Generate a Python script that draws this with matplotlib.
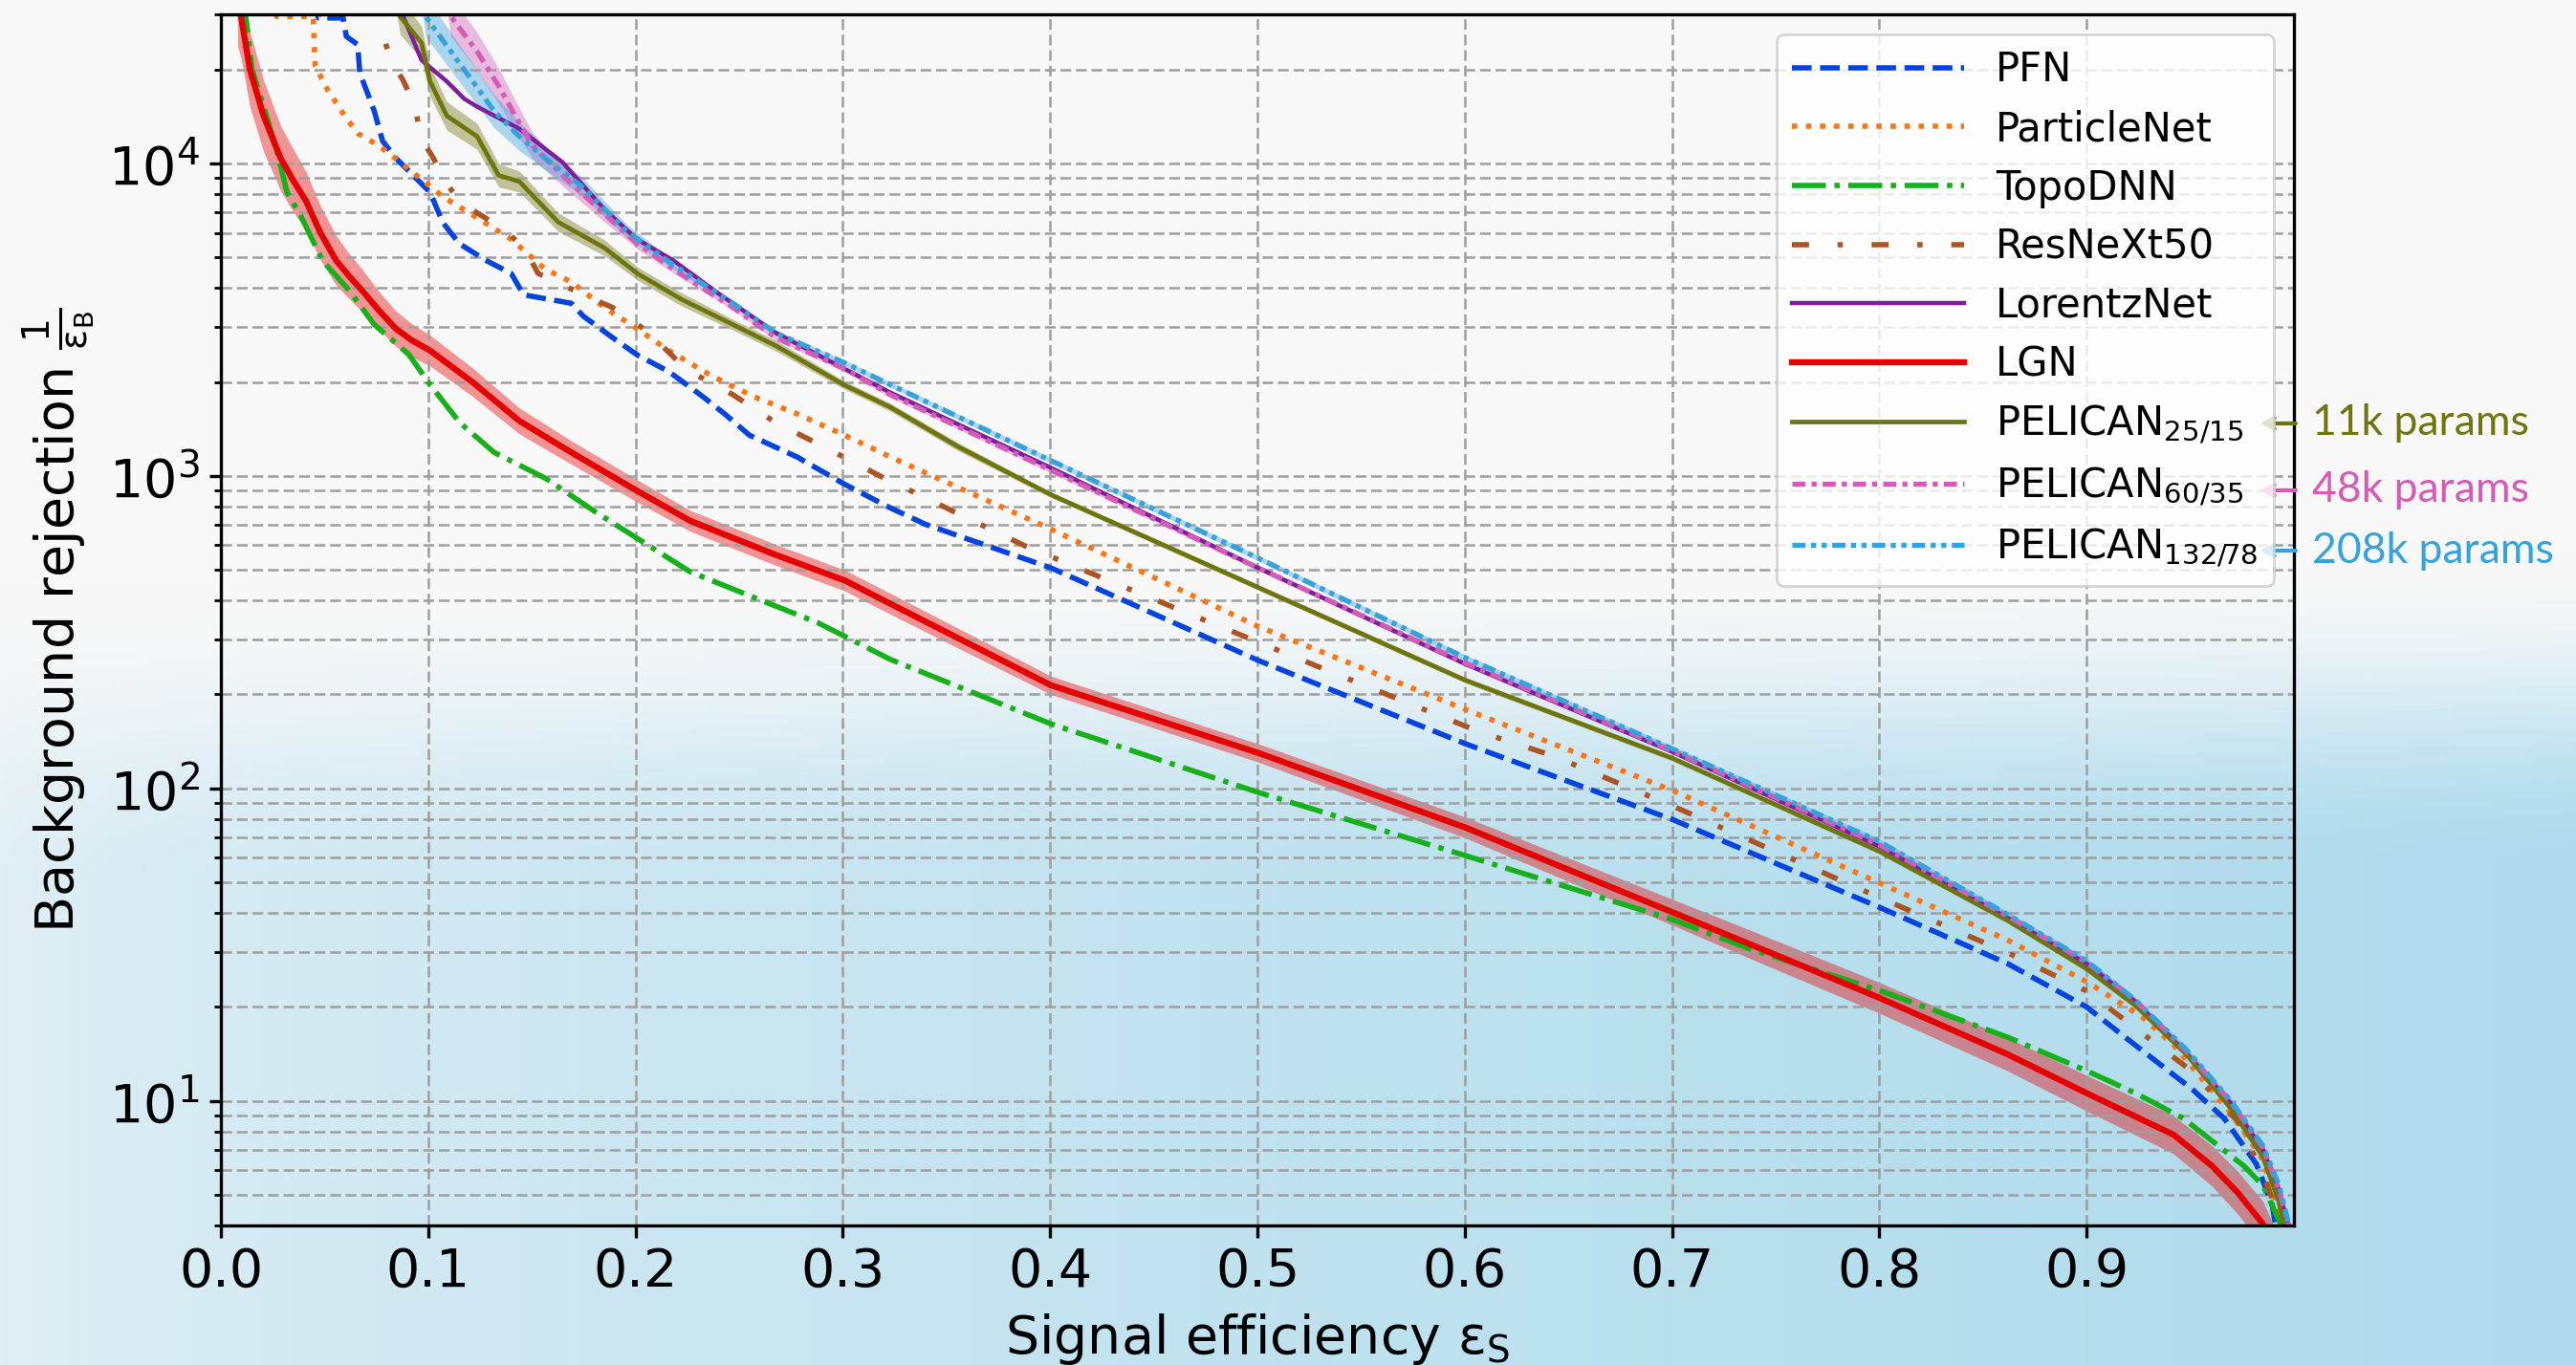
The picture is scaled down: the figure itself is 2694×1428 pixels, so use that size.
import numpy as np
import matplotlib
matplotlib.use("Agg")
import matplotlib.pyplot as plt

# ROC curves: signal efficiency vs background rejection 1/eps_B
pfn_eff = [0.044, 0.047, 0.059, 0.0605, 0.066, 0.067, 0.074, 0.078, 0.0844, 0.0906, 0.1009, 0.107,
           0.115, 0.128, 0.14, 0.146, 0.169, 0.175, 0.189, 0.2008, 0.216, 0.2327, 0.243, 0.255,
           0.278, 0.301, 0.323, 0.34, 0.4004, 0.5004, 0.6004, 0.7002, 0.80, 0.862, 0.90,
           0.9218, 0.951, 0.9664, 0.9818, 0.9895, 0.991, 0.995]
pfn_rej = [40000, 29200, 29200, 25500, 24000, 19500, 14700, 11800, 10400, 9460, 8090, 6480,
           5540, 4890, 4450, 3800, 3570, 3240, 2770, 2440, 2160, 1790, 1580, 1350,
           1150, 940, 790, 700, 508, 257, 139, 79.6, 41.7, 27.5, 20.0,
           15.4, 10.9, 8.8, 6.3, 4.67, 4.05, 3.3]

pnet_eff = [0.022, 0.027, 0.0445, 0.0455, 0.0515, 0.0597, 0.0659, 0.0762, 0.0865, 0.0968, 0.107,
            0.1236, 0.14, 0.1565, 0.169, 0.185, 0.2008, 0.216, 0.2368, 0.2574, 0.278, 0.301,
            0.323, 0.4004, 0.5004, 0.6004, 0.7002, 0.80, 0.862, 0.90, 0.9267, 0.942,
            0.9697, 0.985, 0.993, 0.996]
pnet_rej = [50000, 29500, 29500, 20500, 17200, 14200, 12500, 11400, 10100, 8890, 7830,
            6700, 5720, 4590, 4180, 3460, 2960, 2520, 2090, 1790, 1580, 1350,
            1150, 676, 330, 179, 98.6, 49.9, 32.7, 24.1, 18.6, 15.1,
            9.1, 6.5, 4.4, 3.5]

topo_eff = [0.009, 0.012, 0.015, 0.0206, 0.0268, 0.0319, 0.039, 0.049, 0.0618, 0.074, 0.0906,
            0.1009, 0.1153, 0.1318, 0.1565, 0.181, 0.2008, 0.2265, 0.2574, 0.288, 0.3229,
            0.4004, 0.5004, 0.6004, 0.7002, 0.7374, 0.80, 0.862, 0.90, 0.9236, 0.9467,
            0.9759, 0.985, 0.9935, 0.997]
topo_rej = [40000, 29500, 20000, 15200, 11100, 8080, 6700, 4890, 3930, 3050, 2450,
            1960, 1480, 1190, 984, 765, 632, 493, 408, 339, 259,
            161, 97.2, 61, 38.1, 30.7, 22.6, 16.0, 12.5, 10.6, 8.8,
            6.2, 5.37, 4.05, 3.4]

resnext_eff = [0.074, 0.078, 0.082, 0.088, 0.094, 0.096, 0.1025, 0.109, 0.116, 0.1375, 0.147,
               0.153, 0.177, 0.189, 0.198, 0.2055, 0.216, 0.2245, 0.247, 0.2677, 0.292, 0.318,
               0.388, 0.473, 0.537, 0.607, 0.643, 0.7002, 0.80, 0.862, 0.90, 0.9512, 0.9743,
               0.988, 0.994, 0.997]
resnext_rej = [40000, 26000, 21400, 18400, 15100, 12200, 10400, 8600, 7470, 6090, 5280,
               4450, 3740, 3460, 3150, 2910, 2490, 2190, 1820, 1480, 1230, 1000,
               597, 349, 234, 152, 127, 88, 44.8, 29.8, 22.5, 12.4, 8.4,
               5.2, 4.0, 3.3]

lorentz_eff = [0.085, 0.088, 0.0968, 0.109, 0.1174, 0.1236, 0.144, 0.1647, 0.185, 0.2008, 0.2183,
               0.2409, 0.2677, 0.301, 0.3229, 0.4004, 0.5004, 0.6004, 0.7002, 0.80,
               0.862, 0.90, 0.9236, 0.9482, 0.9697, 0.985, 0.9927, 0.9973, 0.999]
lorentz_rej = [40000, 29500, 21400, 18300, 16100, 15200, 12900, 10100, 7130, 5720, 4890,
               3800, 2870, 2200, 1850, 1062, 508, 250, 131, 65.3,
               38.5, 27.5, 20.8, 14.2, 9.8, 7.0, 5.2, 4.0, 3.0]

lgn_eff = [0.008, 0.0098, 0.014, 0.0206, 0.0288, 0.035, 0.041, 0.048, 0.0556, 0.062, 0.068,
           0.076, 0.0844, 0.092, 0.1009, 0.1215, 0.144, 0.169, 0.2008, 0.2265, 0.2677, 0.301,
           0.323, 0.4004, 0.5004, 0.6004, 0.7002, 0.7374, 0.80, 0.862, 0.90, 0.942, 0.9605,
           0.9728, 0.985, 0.992]
lgn_rej = [32000, 29300, 20000, 14200, 10400, 8800, 7600, 6000, 4890, 4350, 3930,
           3400, 2960, 2720, 2520, 1994, 1500, 1190, 896, 718, 559, 463,
           390, 214, 130, 75, 40.2, 31.8, 21.4, 14.1, 10.6, 7.8, 6.2,
           5.1, 4.05, 3.2]
lgn_band = [0.35, 0.35, 0.32, 0.3, 0.27, 0.26, 0.24, 0.22, 0.2, 0.18, 0.17,
            0.15, 0.14, 0.13, 0.12, 0.11, 0.10, 0.09, 0.085, 0.08, 0.08, 0.08,
            0.08, 0.07, 0.07, 0.08, 0.10, 0.11, 0.12, 0.13, 0.14, 0.15, 0.16,
            0.17, 0.18, 0.18]

p25_eff = [0.083, 0.0865, 0.0968, 0.1009, 0.109, 0.1236, 0.134, 0.144, 0.1627, 0.185, 0.2008,
           0.222, 0.247, 0.2677, 0.301, 0.3229, 0.3557, 0.4004, 0.5004, 0.6004, 0.7002,
           0.80, 0.862, 0.90, 0.9236, 0.9482, 0.9697, 0.985, 0.9927, 0.995, 0.998]
p25_rej = [40000, 29500, 24300, 18300, 14200, 12200, 9160, 8750, 6490, 5370, 4450,
           3680, 3050, 2610, 1950, 1660, 1240, 871, 440, 222, 125,
           63, 37.8, 26.5, 20.2, 14.1, 9.44, 6.63, 4.77, 4.0, 3.0]
p25_band = [0.14, 0.14, 0.13, 0.12, 0.11, 0.1, 0.09, 0.08, 0.07, 0.06, 0.05,
            0.05, 0.04, 0.04, 0.03, 0.03, 0.03, 0.02, 0.02, 0.02, 0.02,
            0.02, 0.02, 0.02, 0.02, 0.02, 0.02, 0.02, 0.02, 0.02, 0.02]

p60_eff = [0.108, 0.111, 0.1236, 0.134, 0.142, 0.1503, 0.1647, 0.185, 0.2008, 0.2183, 0.247,
           0.2677, 0.301, 0.3229, 0.4004, 0.5004, 0.6004, 0.7002, 0.80, 0.862, 0.90,
           0.9236, 0.9482, 0.9697, 0.985, 0.9927, 0.9973, 0.999]
p60_rej = [40000, 29500, 22800, 17700, 14200, 11400, 9170, 6900, 5540, 4590, 3460,
           2770, 2200, 1820, 1043, 508, 252, 132, 66, 39, 27.8,
           21.0, 14.4, 9.9, 7.1, 5.24, 4.05, 3.0]
p60_band = [0.16, 0.16, 0.15, 0.14, 0.12, 0.1, 0.08, 0.06, 0.04, 0.03, 0.02,
            0.02, 0.02, 0.02, 0.02, 0.02, 0.02, 0.02, 0.02, 0.02, 0.02,
            0.02, 0.02, 0.02, 0.02, 0.02, 0.02, 0.02]

p132_eff = [0.096, 0.0988, 0.111, 0.1215, 0.1318, 0.144, 0.1565, 0.175, 0.1956, 0.2183, 0.247,
            0.2677, 0.301, 0.3229, 0.4004, 0.5004, 0.6004, 0.7002, 0.80, 0.862, 0.90,
            0.9236, 0.9482, 0.9697, 0.985, 0.9927, 0.9975, 0.999]
p132_rej = [40000, 29500, 22800, 18300, 14700, 12200, 10400, 8340, 6090, 4730, 3570,
            2870, 2300, 1960, 1120, 546, 262, 134, 67.7, 39.5, 28.1,
            21.0, 14.6, 10.0, 7.2, 5.4, 4.05, 3.0]
p132_band = [0.16, 0.16, 0.15, 0.14, 0.13, 0.11, 0.09, 0.07, 0.05, 0.03, 0.02,
             0.02, 0.02, 0.02, 0.02, 0.02, 0.02, 0.02, 0.02, 0.02, 0.02,
             0.02, 0.02, 0.02, 0.02, 0.02, 0.02, 0.02]

x_ticks = [0.0, 0.1, 0.2, 0.3, 0.4, 0.5, 0.6, 0.7, 0.8, 0.9]
param_labels = ["11k params", "48k params", "208k params"]

c_pfn = "#0343df"
c_pnet = "#ff7514"
c_topo = "#15b01a"
c_resnext = "#ad5423"
c_lorentz = "#7e1e9c"
c_lgn = "#e50000"
c_p25 = "#6e750e"
c_p60 = "#d45bb8"
c_p132 = "#36a2dc"

fig = plt.figure(figsize=(13.47, 7.14), dpi=200)

# soft slide-style backdrop: pale grey on top, light blue towards the bottom right
h, w = 300, 600
yy, xx = np.mgrid[0:1:h * 1j, 0:1:w * 1j]
s = np.clip((yy - 0.43 + 0.02 * xx) / 0.22, 0, 1)
s = s * s * (3 - 2 * s)
wgt = (s * (0.3 + 0.7 * xx ** 0.6))[..., None]
top_col = np.array([248, 248, 248]) / 255
blue_col = np.array([174, 219, 236]) / 255
bg_img = top_col * (1 - wgt) + blue_col * wgt
bg = fig.add_axes([0, 0, 1, 1], zorder=-10)
bg.imshow(bg_img, aspect="auto", extent=[0, 1, 0, 1], origin="upper")
bg.axis("off")

ax = fig.add_axes([0.08575, 0.10224, 0.80475, 0.88726])
ax.set_facecolor("none")


def band(eff, rej, frac, color):
    rej = np.array(rej)
    frac = np.array(frac)
    ax.fill_between(eff, rej / (1 + frac), rej * (1 + frac), color=color, alpha=0.4, lw=0)


ax.plot(pfn_eff, pfn_rej, color=c_pfn, ls="--", lw=2.0, label="PFN")
ax.plot(pnet_eff, pnet_rej, color=c_pnet, ls=":", lw=2.0, label="ParticleNet")
ax.plot(topo_eff, topo_rej, color=c_topo, ls="-.", lw=2.0, label="TopoDNN")
ax.plot(resnext_eff, resnext_rej, color=c_resnext, ls=(0, (3.2, 5.4, 1, 5.4)), lw=2.0,
        label="ResNeXt50")
ax.plot(lorentz_eff, lorentz_rej, color=c_lorentz, ls="-", lw=1.6, label="LorentzNet")
band(lgn_eff, lgn_rej, lgn_band, c_lgn)
ax.plot(lgn_eff, lgn_rej, color=c_lgn, ls="-", lw=2.3, label="LGN")
band(p25_eff, p25_rej, p25_band, c_p25)
ax.plot(p25_eff, p25_rej, color=c_p25, ls="-", lw=1.7, label="PELICAN$_{25/15}$")
band(p60_eff, p60_rej, p60_band, c_p60)
ax.plot(p60_eff, p60_rej, color=c_p60, ls=(0, (2.6, 1.2, 1, 1.2)), lw=1.9,
        label="PELICAN$_{60/35}$")
band(p132_eff, p132_rej, p132_band, c_p132)
ax.plot(p132_eff, p132_rej, color=c_p132, ls=(0, (2.6, 1.1, 1, 1.1, 1, 1.1)), lw=1.9,
        label="PELICAN$_{132/78}$")

ax.set_yscale("log")
ax.set_xlim(0, 1.0)
ax.set_ylim(4, 3e4)
ax.set_xticks(x_ticks)
ax.tick_params(axis="both", which="major", labelsize=20, length=4.5, width=1.2)
ax.tick_params(axis="y", which="minor", length=2.5, width=1.0)
for sp in ax.spines.values():
    sp.set_linewidth(1.2)

ax.grid(True, which="major", axis="x", color="0.62", ls=(0, (4.5, 2)), lw=0.9)
ax.grid(True, which="both", axis="y", color="0.62", ls=(0, (4.5, 2)), lw=0.9)

ax.set_xlabel(r"Signal efficiency $\mathrm{ε}_\mathrm{S}$", fontsize=20, labelpad=5)
ax.set_ylabel(r"Background rejection $\frac{1}{\mathrm{ε}_\mathrm{B}}$", fontsize=20)

ax.legend(loc="upper right", fontsize=15, handlelength=4.3, labelspacing=0.47)

# parameter counts next to the PELICAN legend entries
for label, color, y in zip(param_labels, [c_p25, c_p60, c_p132], [0.6898, 0.6408, 0.5966]):
    ax.annotate("", xy=(0.8771, y), xytext=(0.8912, y), xycoords="figure fraction",
                textcoords="figure fraction", annotation_clip=False,
                arrowprops=dict(arrowstyle="->", color=color, lw=1.5, shrinkA=0, shrinkB=0))
    fig.text(0.8976, y, label, color=color, fontsize=16, family="Lato", va="center")

fig.savefig("out.png", dpi=200)
